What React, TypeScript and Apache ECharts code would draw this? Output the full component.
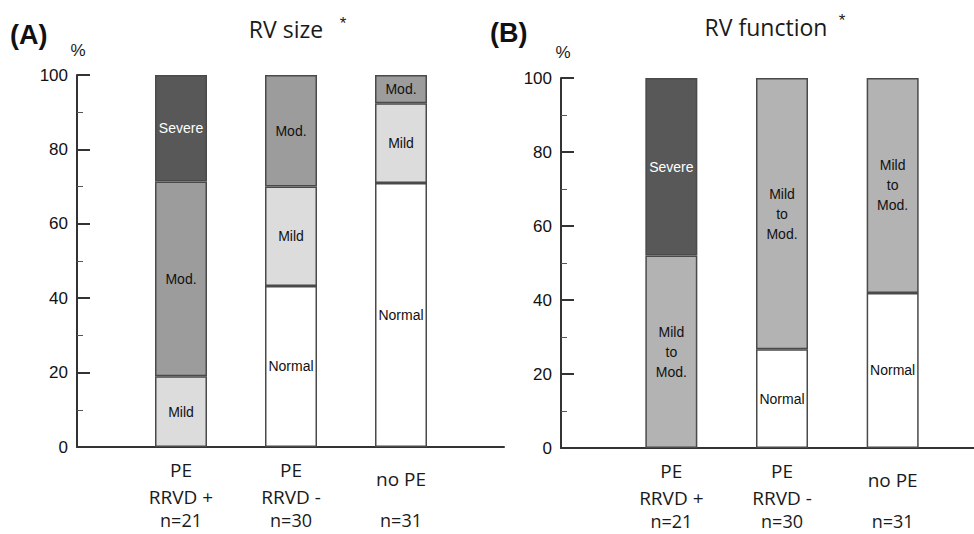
import React, { useEffect, useRef } from "react";
import * as echarts from "echarts";

// ---- data ----
const categoriesA = ["PE\nRRVD +", "PE\nRRVD -", "no PE"];
const categoriesB = ["PE\nRRVD +", "PE\nRRVD -", "no PE"];
const groupSizes = ["n=21", "n=30", "n=31"];

const sizeNormal = [0, 43.3, 71.0];
const sizeMild = [19.0, 26.7, 21.4];
const sizeMod = [52.4, 30.0, 7.6];
const sizeSevere = [28.6, 0, 0];

const funcNormal = [0, 26.7, 41.9];
const funcMildMod = [52.0, 73.3, 58.1];
const funcSevere = [48.0, 0, 0];

const yTicks = [0, 20, 40, 60, 80, 100];

const SANS = "'Liberation Sans', Arial, sans-serif";
const OPEN = "'Open Sans', 'Noto Sans', sans-serif";

function catLabelFormatter(v: string) {
  if (v.indexOf("\n") >= 0) {
    return v
      .split("\n")
      .map((s) => "{a|" + s + "}")
      .join("\n");
  }
  return "{s|" + v + "}";
}

function segData(vals: number[]) {
  return vals.map((v) =>
    v > 0 ? v : { value: 0, label: { show: false }, itemStyle: { borderWidth: 0 } }
  );
}

function seg(
  name: string,
  label: string,
  vals: number[],
  color: string,
  textColor: string,
  xIdx: number,
  yIdx: number,
  stack: string
) {
  return {
    type: "bar",
    name,
    stack,
    xAxisIndex: xIdx,
    yAxisIndex: yIdx,
    barWidth: 52,
    data: segData(vals),
    itemStyle: { color, borderColor: "#4a4a4a", borderWidth: 1.5 },
    label: {
      show: true,
      position: "inside",
      formatter: () => label,
      color: textColor,
      fontSize: 14,
      fontFamily: SANS,
      lineHeight: 20,
    },
  };
}

function frameX(gridIndex: number) {
  return {
    type: "value",
    gridIndex,
    min: 0,
    max: 1,
    axisLine: { show: true, lineStyle: { color: "#333", width: 2 } },
    axisTick: { show: false },
    axisLabel: { show: false },
    splitLine: { show: false },
  };
}

function frameY(gridIndex: number) {
  return {
    type: "value",
    gridIndex,
    min: yTicks[0],
    max: yTicks[yTicks.length - 1],
    interval: yTicks[1] - yTicks[0],
    axisLine: { show: true, lineStyle: { color: "#333", width: 2 } },
    axisTick: { show: true, inside: true, length: 13, lineStyle: { color: "#333", width: 2 } },
    minorTick: { show: true, splitNumber: 2, length: 6, lineStyle: { color: "#555", width: 1 } },
    axisLabel: { show: true, margin: 9, fontSize: 17, fontFamily: SANS, color: "#111" },
    splitLine: { show: false },
    minorSplitLine: { show: false },
  };
}

function catX(gridIndex: number, data: string[]) {
  return {
    type: "category",
    gridIndex,
    data,
    axisLine: { show: false },
    axisTick: { show: false },
    splitLine: { show: false },
    axisLabel: {
      margin: 9,
      interval: 0,
      formatter: catLabelFormatter,
      rich: {
        a: { fontSize: 19, fontFamily: OPEN, color: "#1a1a1a", lineHeight: 27 },
        s: { fontSize: 19, fontFamily: OPEN, color: "#1a1a1a", lineHeight: 45 },
      },
    },
  };
}

function nX(gridIndex: number) {
  return {
    type: "category",
    gridIndex,
    data: groupSizes,
    position: "bottom",
    axisLine: { show: false },
    axisTick: { show: false },
    splitLine: { show: false },
    axisLabel: {
      margin: 64,
      interval: 0,
      fontSize: 18,
      lineHeight: 18,
      fontFamily: OPEN,
      color: "#1a1a1a",
    },
  };
}

function hiddenY(gridIndex: number) {
  return {
    type: "value",
    gridIndex,
    min: 0,
    max: 100,
    show: false,
    splitLine: { show: false },
  };
}

export default function App() {
  const ref = useRef<HTMLDivElement>(null);
  useEffect(() => {
    if (!ref.current) return;
    const chart = echarts.init(ref.current, null, { renderer: "svg" });
    const option = {
      animation: false,
      backgroundColor: "#ffffff",
      grid: [
        { left: 77, top: 75, width: 427, height: 372 },
        { left: 126, top: 75, width: 330, height: 372 },
        { left: 561, top: 78, width: 413, height: 370 },
        { left: 616, top: 78, width: 332, height: 370 },
      ],
      xAxis: [
        frameX(0),
        catX(1, categoriesA),
        nX(1),
        frameX(2),
        catX(3, categoriesB),
        nX(3),
      ],
      yAxis: [frameY(0), hiddenY(1), frameY(2), hiddenY(3)],
      series: [
        seg("Normal", "Normal", sizeNormal, "#ffffff", "#111", 1, 1, "A"),
        seg("Mild", "Mild", sizeMild, "#dcdcdc", "#111", 1, 1, "A"),
        seg("Mod.", "Mod.", sizeMod, "#9c9c9c", "#111", 1, 1, "A"),
        seg("Severe", "Severe", sizeSevere, "#585858", "#ffffff", 1, 1, "A"),
        seg("Normal", "Normal", funcNormal, "#ffffff", "#111", 4, 3, "B"),
        seg("Mild to Mod.", "Mild\nto\nMod.", funcMildMod, "#b3b3b3", "#111", 4, 3, "B"),
        seg("Severe", "Severe", funcSevere, "#585858", "#ffffff", 4, 3, "B"),
      ],
      graphic: [
        {
          type: "text",
          left: 10,
          top: 21,
          style: { text: "(A)", font: "bold 27px " + SANS, fill: "#111" },
        },
        {
          type: "text",
          left: 490,
          top: 19,
          style: { text: "(B)", font: "bold 27px " + SANS, fill: "#111" },
        },
        {
          type: "text",
          x: 286,
          y: 29,
          style: { text: "RV size", font: "23px " + OPEN, fill: "#1a1a1a", align: "center", verticalAlign: "middle" },
        },
        {
          type: "text",
          x: 343,
          y: 23,
          style: { text: "*", font: "17px " + SANS, fill: "#1a1a1a", align: "center", verticalAlign: "middle" },
        },
        {
          type: "text",
          x: 766,
          y: 27,
          style: { text: "RV function", font: "23px " + OPEN, fill: "#1a1a1a", align: "center", verticalAlign: "middle" },
        },
        {
          type: "text",
          x: 842,
          y: 20,
          style: { text: "*", font: "17px " + SANS, fill: "#1a1a1a", align: "center", verticalAlign: "middle" },
        },
        {
          type: "text",
          x: 78,
          y: 50,
          style: { text: "%", font: "17px " + SANS, fill: "#1a1a1a", align: "center", verticalAlign: "middle" },
        },
        {
          type: "text",
          x: 563,
          y: 52,
          style: { text: "%", font: "17px " + SANS, fill: "#1a1a1a", align: "center", verticalAlign: "middle" },
        },
      ],
    };
    chart.setOption(option as any);
    return () => chart.dispose();
  }, []);
  return (
    <div
      ref={ref}
      style={{ position: "fixed", left: 0, top: 0, width: 974, height: 534, background: "#fff" }}
    />
  );
}
